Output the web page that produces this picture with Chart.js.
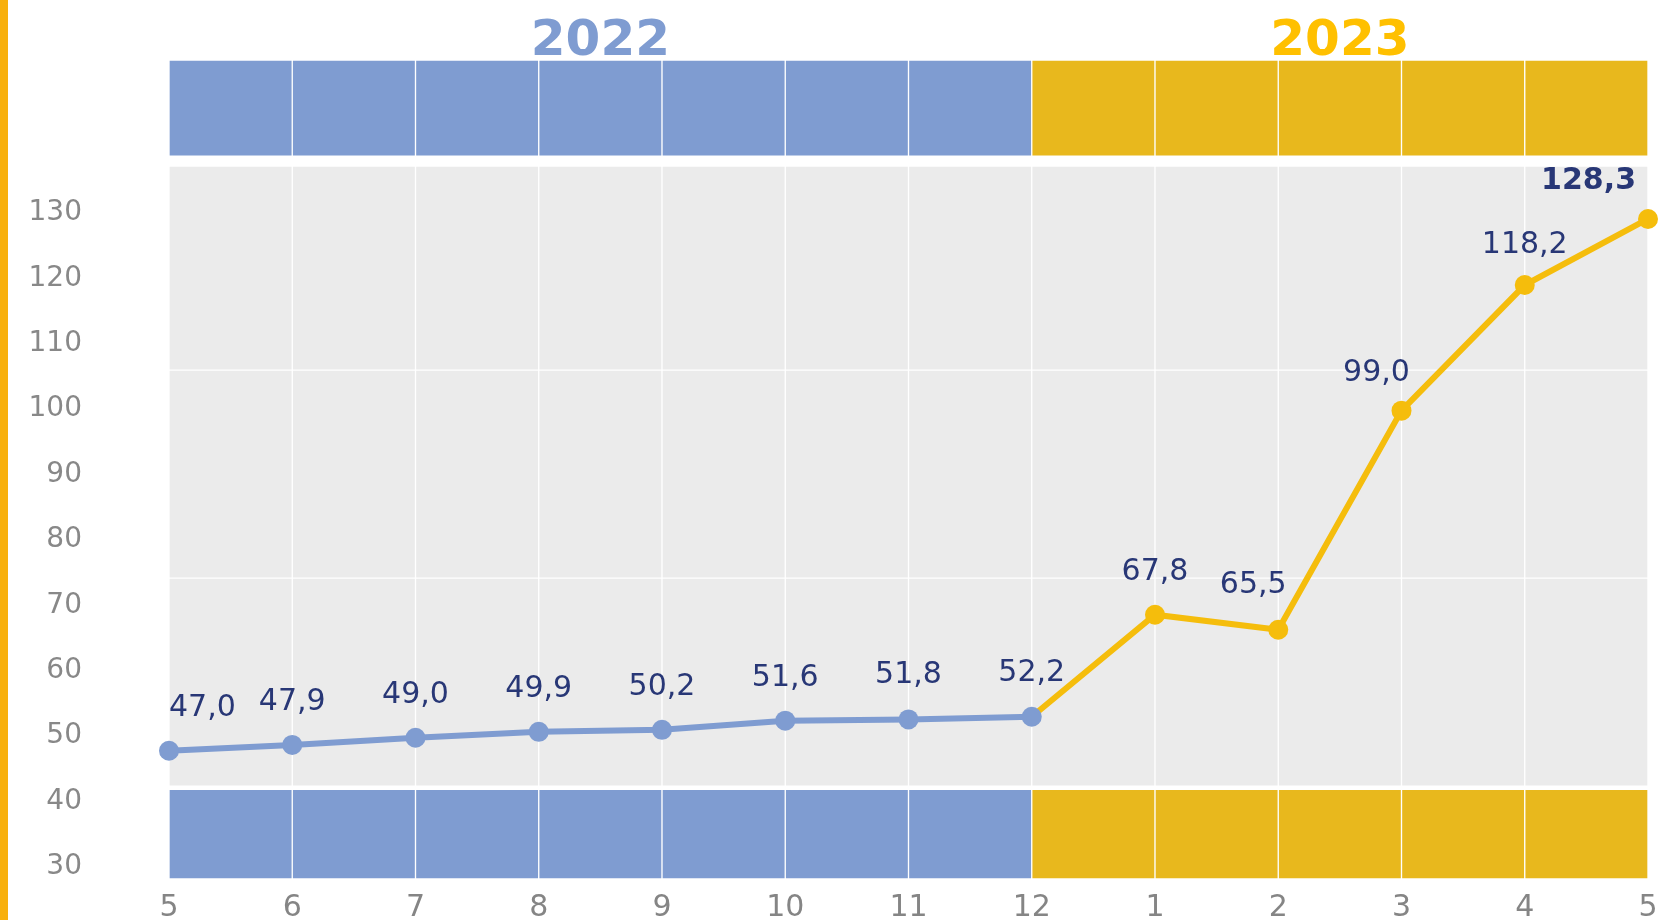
<!DOCTYPE html>
<html>
<head>
<meta charset="utf-8">
<title>2022 - 2023</title>
<script src="https://cdn.jsdelivr.net/npm/chart.js@4.4.0/dist/chart.umd.min.js"></script>
<style>
  html, body { margin: 0; padding: 0; background: #fff; overflow: hidden; }
  #wrap { position: relative; width: 1660px; height: 920px; }
  #edge { position: absolute; left: 0; top: 0; width: 8px; height: 920px; background: #f8b00c; }
</style>
</head>
<body>
<div id="wrap">
  <canvas id="chart"></canvas>
  <div id="edge"></div>
</div>
<script>
// months 5/2022 .. 5/2023
var months = ['5', '6', '7', '8', '9', '10', '11', '12', '1', '2', '3', '4', '5'];
var values = [47.0, 47.9, 49.0, 49.9, 50.2, 51.6, 51.8, 52.2, 67.8, 65.5, 99.0, 118.2, 128.3];
var years = ['2022', '2023'];
var yearStart = [0, 7];
var yearEnd = [7, 12];
var yTicks = [30, 40, 50, 60, 70, 80, 90, 100, 110, 120, 130];

// band ranges in y-axis units
var topBand = [137.9, 152.6];
var bottomBand = [27.4, 41.1];
var plotBands = [[41.6, 73.4], [73.4, 105.2], [105.2, 136.4]];

var BLUE = '#7f9cd1', GOLD = '#e8b81d', LINE_GOLD = '#f5bd0c', GRAY = '#ebebeb', NAVY = '#283776';
var YEAR_COLORS = [BLUE, '#ffc000'];

// label nudges (px)
var labelDx = [0, 0, 0, 0, 0, 0, 0, 0, 0, -25, -25, 0, 0];
var labelDy = [46, 46, 46, 46, 46, 46, 47, 47, 46, 48, 41, 43, 41];

function cells(range) {
  var out = [];
  for (var i = 0; i < months.length - 1; i++) {
    out.push({ x: i + 0.5, y: [range[0], range[1]] });
  }
  return out;
}

function cellColors() {
  var out = [];
  for (var i = 0; i < months.length - 1; i++) {
    out.push(i < yearStart[1] ? BLUE : GOLD);
  }
  return out;
}

function bandSet(range, color) {
  return {
    type: 'bar',
    data: cells(range),
    backgroundColor: color,
    borderColor: '#ffffff',
    borderWidth: 1,
    borderSkipped: false,
    grouped: false,
    categoryPercentage: 1,
    barPercentage: 1,
    order: 5
  };
}

var bluePts = [], goldPts = [], goldRadius = [];
for (var i = 0; i < values.length; i++) {
  if (i <= yearStart[1]) bluePts.push({ x: i, y: values[i] });
  if (i >= yearStart[1]) {
    goldPts.push({ x: i, y: values[i] });
    goldRadius.push(i === yearStart[1] ? 0 : 10);
  }
}

var datasets = [
  bandSet(topBand, cellColors()),
  bandSet(bottomBand, cellColors())
];
plotBands.forEach(function(b) { datasets.push(bandSet(b, GRAY)); });
datasets.push({
  type: 'line',
  data: bluePts,
  borderColor: BLUE,
  borderWidth: 6,
  pointRadius: 10,
  pointBackgroundColor: BLUE,
  pointBorderWidth: 0,
  clip: false,
  order: 1
});
datasets.push({
  type: 'line',
  data: goldPts,
  borderColor: LINE_GOLD,
  borderWidth: 6,
  pointRadius: goldRadius,
  pointBackgroundColor: LINE_GOLD,
  pointBorderWidth: 0,
  clip: false,
  order: 2
});
var BLUE_IDX = datasets.length - 2, GOLD_IDX = datasets.length - 1;

// value labels above the points
var pointLabels = {
  id: 'pointLabels',
  afterDatasetsDraw: function(chart) {
    var ctx = chart.ctx, area = chart.chartArea;
    var blue = chart.getDatasetMeta(BLUE_IDX).data;
    var gold = chart.getDatasetMeta(GOLD_IDX).data;
    ctx.save();
    ctx.fillStyle = NAVY;
    ctx.textAlign = 'left';
    ctx.textBaseline = 'alphabetic';
    for (var i = 0; i < values.length; i++) {
      var el = i <= yearStart[1] ? blue[i] : gold[i - yearStart[1]];
      var last = i === values.length - 1;
      ctx.font = (last ? 'bold ' : '') + '30px "DejaVu Sans"';
      var txt = values[i].toFixed(1).replace('.', ',');
      var w = ctx.measureText(txt).width;
      var left = el.x + labelDx[i] - w / 2;
      if (left < area.left) left = area.left;
      if (left + w > area.right - 12) left = area.right - 12 - w;
      ctx.fillText(txt, left, el.y - labelDy[i] + 11);
    }
    ctx.restore();
  }
};

// year captions over the top band
var yearLabels = {
  id: 'yearLabels',
  afterDraw: function(chart) {
    var ctx = chart.ctx, x = chart.scales.x, area = chart.chartArea;
    ctx.save();
    ctx.font = 'bold 50px "DejaVu Sans"';
    ctx.textAlign = 'center';
    ctx.textBaseline = 'alphabetic';
    for (var i = 0; i < years.length; i++) {
      ctx.fillStyle = YEAR_COLORS[i];
      ctx.fillText(years[i], x.getPixelForValue((yearStart[i] + yearEnd[i]) / 2), area.top - 5);
    }
    ctx.restore();
  }
};

var ctx = document.getElementById('chart').getContext('2d');
var myChart = new Chart(ctx, {
  type: 'line',
  data: { datasets: datasets },
  plugins: [pointLabels, yearLabels],
  options: {
    responsive: true,
    maintainAspectRatio: false,
    animation: false,
    layout: { padding: { top: 60, right: 12, bottom: 0, left: 0 } },
    plugins: {
      legend: { display: false },
      tooltip: { enabled: false }
    },
    scales: {
      x: {
        type: 'linear',
        min: 0,
        max: months.length - 1,
        offset: false,
        grid: { display: false, drawTicks: false },
        border: { display: false },
        afterBuildTicks: function(axis) {
          axis.ticks = months.map(function(m, i) { return { value: i }; });
        },
        afterFit: function(axis) {
          axis.height = 41;
          axis.paddingLeft = 0;
          axis.paddingRight = 0;
        },
        ticks: {
          autoSkip: false,
          maxRotation: 0,
          padding: 11,
          color: '#858585',
          font: { family: '"DejaVu Sans"', size: 30 },
          callback: function(v) { return months[v]; }
        }
      },
      y: {
        min: 27.4,
        max: 152.6,
        weight: 2,
        grid: { display: false, drawTicks: false },
        border: { display: false },
        afterBuildTicks: function(axis) {
          axis.ticks = yTicks.map(function(v) { return { value: v }; });
        },
        afterFit: function(axis) { axis.width = 86; },
        ticks: {
          padding: 4,
          labelOffset: 5,
          color: '#888888',
          font: { family: '"DejaVu Sans"', size: 28 },
          callback: function(v) { return String(v); }
        }
      },
      // empty gap between tick labels and plot
      gap: {
        type: 'linear',
        position: 'left',
        weight: 1,
        grid: { display: false, drawTicks: false },
        border: { display: false },
        ticks: { display: false },
        afterFit: function(axis) { axis.width = 83; }
      }
    }
  }
});
</script>
</body>
</html>
